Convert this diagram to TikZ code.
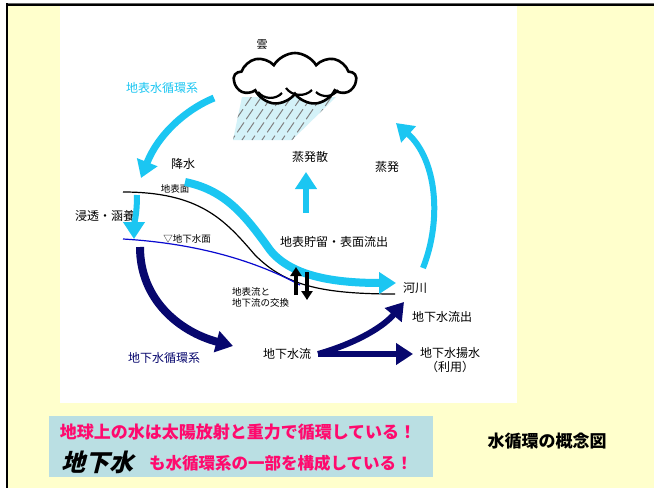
\documentclass[tikz,border=0pt]{standalone}
\usepackage{fontspec}
\setmainfont{Noto Sans CJK JP}
\newfontfamily\slantjp{Noto Sans CJK JP}[FakeSlant=0.25]
\usetikzlibrary{positioning,arrows.meta,shapes.symbols}

\definecolor{bgyellow}{HTML}{FFFFCC}
\definecolor{wcyan}{HTML}{1BC6F2}
\definecolor{wnavy}{HTML}{07076E}
\definecolor{wtable}{HTML}{0A0AD0}
\definecolor{rainblue}{HTML}{D4F2F8}
\definecolor{notebox}{HTML}{BADFE3}
\definecolor{notepink}{HTML}{FF0A6E}

\begin{document}
\begin{tikzpicture}[x=1pt, y=-1pt,
  lbl/.style={font=\fontsize{12}{14}\selectfont, inner sep=1pt},
  smalllbl/.style={font=\fontsize{9.5}{11}\selectfont, inner sep=1pt, align=left},
  surfflow/.style={draw=wcyan, line width=7pt, -{Triangle[length=17pt,width=21pt]}},
  gwflow/.style={draw=wnavy, line width=7pt, -{Triangle[length=17pt,width=21pt]}},
  exch/.style={draw=black, line width=3.5pt, -{Triangle[length=9pt,width=11pt]}}
]
\useasboundingbox (0,0) rectangle (654,488);

% page frame
\fill[bgyellow] (8,6) rectangle (654,488);
\draw[black!60, line width=0.8pt] (6,3.3) -- (654,3.3);
\draw[line width=2.4pt] (6,5.1) -- (654,5.1);
\draw[line width=2.4pt] (7.2,3) -- (7.2,488);
\fill[white] (60,6.3) rectangle (517,403);

% rain under the cloud
\begin{scope}
  \clip (242,97) -- (336,97) -- (292,140) -- (233,140) -- cycle;
  \fill[rainblue] (230,95) rectangle (340,142);
  \foreach \x in {0,...,9}
    \draw[gray, line width=1pt, dash pattern=on 12pt off 4pt] (252+\x*10,96) -- ++(-30,44);
\end{scope}

% cloud
\node[cloud, cloud puffs=9, cloud puff arc=120, aspect=2.3, draw, line width=2.6pt,
  fill=white, minimum width=122pt, minimum height=52pt] (cloud) at (295,79) {};
\draw[line width=2.2pt] (258,92) to[bend right=50] (282,93);
\draw[line width=2.2pt] (286,88) to[bend right=50] (312,90);
\draw[line width=2.2pt] (316,92) to[bend right=50] (338,90);
\node[font=\fontsize{11}{12}\selectfont] (kumo) at (262,45) {雲};

% labels
\node[lbl, text=wcyan] (surfsys) at (162,88) {地表水循環系};
\node[lbl] (rainlbl) at (183,164) {降水};
\node[lbl] (etlbl) at (310,157) {蒸発散};
\node[lbl] (evaplbl) at (387,167) {蒸発};
\node[smalllbl] (groundlbl) at (175,189) {地表面};
\node[lbl] (infil) at (105,216) {浸透・涵養};
\node[smalllbl] (tablelbl) at (187,239) {▽地下水面};
\node[lbl] (runoff) at (334,242) {地表貯留・表面流出};
\node[smalllbl, anchor=west] (exchlbl) at (231,297) {地表流と\\地下流の交換};
\node[lbl] (river) at (415,288) {河川};
\node[lbl] (gwout) at (442,317) {地下水流出};
\node[lbl, text=wnavy] (gwsys) at (164,358) {地下水循環系};
\node[lbl] (gwflowlbl) at (287,354) {地下水流};
\node[lbl, align=center] (pump) at (450,360) {地下水揚水\\（利用）};

% flow end points
\coordinate (precipS) at (214,98);
\coordinate (precipE) at (141,178);
\coordinate (evapS) at (423,268);
\coordinate (evapE) at (396,123);
\coordinate (etS) at (306,213);
\coordinate (etE) at (306,172);
\coordinate (infilS) at (137,195);
\coordinate (infilE) at (134,239);
\coordinate (surfS) at (185,182);
\coordinate (surfE) at (396,283);
\coordinate (gwS) at (140,247);
\coordinate (gwE) at (233,346);
\coordinate (gwsplit) at (318,354);
\coordinate (riverE) at (404,302);
\coordinate (pumpE) at (413,354);

% ground surface and water table
\draw[line width=1.2pt] (123,192) .. controls (200,192) and (225,220) .. (255,255)
  .. controls (285,285) and (320,294) .. (395,294);
\draw[wtable, line width=1.2pt] (123,239) .. controls (190,243) and (250,258) .. (300,285);

% surface water cycle
\draw[surfflow] (precipS) .. controls (185,110) and (158,135) .. (precipE);
\draw[surfflow, line width=6pt] (evapS) .. controls (442,220) and (437,160) .. (evapE);
\draw[surfflow, line width=6pt] (etS) -- (etE);
\draw[surfflow, line width=6pt] (infilS) .. controls (137,215) and (134,225) .. (infilE);
\draw[surfflow, line width=8pt] (surfS) .. controls (225,190) and (245,215) .. (270,250)
  .. controls (290,275) and (330,283) .. (surfE);

% exchange between surface and ground water
\draw[exch] (296,295) -- (296,267);
\draw[exch] (307,272) -- (307,300);

% ground water cycle
\draw[gwflow, line width=8pt] (gwS) .. controls (140,300) and (180,332) .. (gwE);
\draw[gwflow, line width=6pt] (gwsplit) .. controls (360,342) and (385,325) .. (riverE);
\draw[gwflow, line width=6pt] (gwsplit) -- (pumpE);

% note box and caption
\node[fill=notebox, minimum width=384pt, minimum height=61pt, inner sep=0pt] (note) at (241,446.5) {};
\node[font=\fontsize{17}{19}\selectfont\bfseries, text=notepink] (msgA) at (238,432) {地球上の水は太陽放射と重力で循環している！};
\node[font=\slantjp\bfseries\fontsize{24}{26}\selectfont, anchor=west, inner sep=0pt] (gwword) at (61,462) {地下水};
\node[font=\fontsize{16.5}{18}\selectfont\bfseries, text=notepink, anchor=west, inner sep=0pt] (msgB) at (149,463) {も水循環系の一部を構成している！};
\node[font=\fontsize{17}{19}\selectfont\bfseries] (title) at (547,441) {水循環の概念図};
\end{tikzpicture}
\end{document}
